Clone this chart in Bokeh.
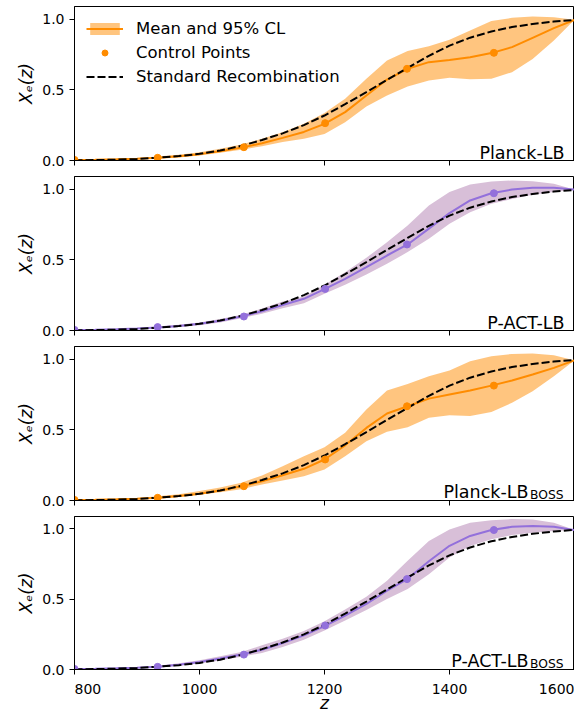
from bokeh.plotting import figure
from bokeh.layouts import column
from bokeh.models import (Range1d, FixedTicker, Label, Legend, LegendItem, PrintfTickFormatter,
                          CustomLabelingPolicy)
from bokeh.core.properties import value
from bokeh.embed import file_html
from bokeh.resources import INLINE

# redshift grid
z = [800, 833, 867, 900, 933, 967, 1000, 1033, 1067, 1100, 1133, 1167, 1200,
     1233, 1267, 1300, 1333, 1367, 1400, 1433, 1467, 1500, 1533, 1567, 1600]

# standard recombination
std = [0.002, 0.003, 0.006, 0.011, 0.020, 0.031, 0.047, 0.070, 0.104, 0.145, 0.192, 0.250, 0.318,
       0.398, 0.483, 0.570, 0.655, 0.740, 0.812, 0.868, 0.912, 0.943, 0.965, 0.982, 0.993]

# control point redshifts
cp_z = [800, 933, 1071, 1201, 1332, 1471]

# Planck-LB
mean1 = [0.004, 0.006, 0.009, 0.013, 0.019, 0.030, 0.045, 0.066, 0.091, 0.122, 0.160, 0.202, 0.259,
         0.342, 0.459, 0.572, 0.648, 0.695, 0.711, 0.730, 0.759, 0.801, 0.867, 0.935, 0.994]
lo1 = [0.003, 0.004, 0.006, 0.009, 0.012, 0.022, 0.036, 0.054, 0.076, 0.101, 0.130, 0.153, 0.188,
       0.271, 0.382, 0.459, 0.523, 0.565, 0.584, 0.575, 0.577, 0.624, 0.718, 0.848, 0.994]
hi1 = [0.005, 0.008, 0.012, 0.018, 0.028, 0.040, 0.058, 0.083, 0.113, 0.153, 0.200, 0.259, 0.335,
       0.436, 0.577, 0.707, 0.773, 0.808, 0.853, 0.919, 0.985, 1.008, 1.018, 1.013, 0.994]
cp1 = [0.004, 0.019, 0.094, 0.264, 0.648, 0.761]

# P-ACT-LB
mean2 = [0.004, 0.006, 0.009, 0.014, 0.022, 0.032, 0.047, 0.069, 0.099, 0.136, 0.180, 0.224, 0.292,
         0.365, 0.448, 0.530, 0.608, 0.720, 0.830, 0.919, 0.970, 0.996, 1.008, 1.008, 0.996]
lo2 = [0.003, 0.004, 0.007, 0.010, 0.016, 0.025, 0.037, 0.057, 0.086, 0.118, 0.158, 0.193, 0.259,
       0.323, 0.396, 0.471, 0.554, 0.648, 0.754, 0.836, 0.895, 0.930, 0.959, 0.978, 0.996]
hi2 = [0.005, 0.008, 0.012, 0.018, 0.028, 0.040, 0.057, 0.082, 0.112, 0.155, 0.205, 0.240, 0.323,
       0.412, 0.514, 0.624, 0.742, 0.883, 0.978, 1.032, 1.053, 1.060, 1.055, 1.037, 0.996]
cp2 = [0.004, 0.024, 0.099, 0.294, 0.608, 0.970]

# Planck-LB_BOSS
mean3 = [0.004, 0.006, 0.009, 0.013, 0.019, 0.031, 0.048, 0.070, 0.101, 0.136, 0.179, 0.224, 0.290,
         0.390, 0.513, 0.615, 0.666, 0.720, 0.749, 0.777, 0.812, 0.848, 0.890, 0.937, 0.991]
lo3 = [0.003, 0.004, 0.006, 0.008, 0.010, 0.024, 0.040, 0.058, 0.080, 0.113, 0.141, 0.172, 0.219,
       0.313, 0.419, 0.485, 0.518, 0.584, 0.602, 0.598, 0.626, 0.690, 0.772, 0.878, 0.991]
hi3 = [0.005, 0.008, 0.012, 0.018, 0.030, 0.045, 0.068, 0.092, 0.125, 0.177, 0.242, 0.313, 0.377,
       0.478, 0.643, 0.777, 0.824, 0.878, 0.918, 0.984, 1.020, 1.036, 1.039, 1.027, 0.991]
cp3 = [0.004, 0.019, 0.101, 0.290, 0.666, 0.812]

# P-ACT-LB_BOSS
mean4 = [0.004, 0.006, 0.009, 0.013, 0.019, 0.034, 0.054, 0.078, 0.106, 0.141, 0.188, 0.243, 0.309,
         0.384, 0.466, 0.561, 0.645, 0.770, 0.880, 0.950, 0.992, 1.015, 1.020, 1.015, 0.992]
lo4 = [0.003, 0.004, 0.006, 0.009, 0.012, 0.026, 0.042, 0.064, 0.090, 0.118, 0.160, 0.212, 0.278,
       0.349, 0.424, 0.502, 0.572, 0.678, 0.796, 0.879, 0.926, 0.956, 0.973, 0.985, 0.992]
hi4 = [0.005, 0.008, 0.012, 0.018, 0.027, 0.044, 0.066, 0.094, 0.125, 0.172, 0.219, 0.273, 0.344,
       0.426, 0.518, 0.631, 0.773, 0.914, 0.996, 1.044, 1.062, 1.070, 1.067, 1.044, 0.992]
cp4 = [0.004, 0.019, 0.106, 0.313, 0.643, 0.992]

names = ["Planck-LB", "P-ACT-LB", "Planck-LB", "P-ACT-LB"]
subs = [None, None, "BOSS", "BOSS"]
x_ticks = [800, 1000, 1200, 1400, 1600]
x_tick_labels = ["800", "1000", "1200", "1400", "1600"]
y_ticks = [0, 0.5, 1.0]

ORANGE = "darkorange"
PURPLE = "mediumpurple"
panels = [
    (mean1, lo1, hi1, cp1, ORANGE, ORANGE, 0.5),
    (mean2, lo2, hi2, cp2, PURPLE, "thistle", 1.0),
    (mean3, lo3, hi3, cp3, ORANGE, ORANGE, 0.5),
    (mean4, lo4, hi4, cp4, PURPLE, "thistle", 1.0),
]

FONT = "DejaVu Sans"
PX_PER_UNIT = 141.5
FRAME_H = 154
tops = [6, 0, 0, 0]
bottoms = [16, 16, 16, 8]
X_RANGE = Range1d(800, 1600)

no_labels = CustomLabelingPolicy(code="for (const i of indices) { indices.unset(i) }\nreturn indices")

figs = []
for i, (mean, lo, hi, cp, col, bcol, balpha) in enumerate(panels):
    p = figure(width=574, height=tops[i] + FRAME_H + bottoms[i], output_backend="svg",
               toolbar_location=None,
               x_range=X_RANGE, y_range=Range1d(0, FRAME_H / PX_PER_UNIT),
               min_border_left=74, min_border_right=0, min_border_top=tops[i],
               min_border_bottom=bottoms[i])
    p.xgrid.visible = False
    p.ygrid.visible = False
    p.outline_line_color = "black"
    p.outline_line_alpha = 1
    p.outline_line_width = 1

    band = p.varea(x=z, y1=lo, y2=hi, fill_color=bcol, fill_alpha=balpha)
    ln = p.line(z, mean, line_color=col, line_width=2)
    sr = p.line(z, std, line_color="black", line_width=2, line_dash="8 3")
    pts = p.scatter(cp_z, cp, size=7, fill_color=col, line_color=col)

    for ax in (p.xaxis[0], p.yaxis[0]):
        ax.axis_line_color = "black"
        ax.major_tick_line_color = "black"
        ax.major_tick_out = 5
        ax.major_tick_in = 0
        ax.minor_tick_line_color = None
        ax.major_label_text_font = FONT
        ax.major_label_text_font_size = "14px"
        ax.major_label_text_color = "black"
    p.xaxis.ticker = FixedTicker(ticks=x_ticks)
    p.xaxis.major_label_policy = no_labels
    p.xaxis.major_label_text_font_size = "1px"
    p.xaxis.major_label_standoff = 0
    p.yaxis.ticker = FixedTicker(ticks=y_ticks)
    p.yaxis.formatter = PrintfTickFormatter(format="%.1f")
    p.yaxis.major_label_standoff = 5
    p.yaxis.axis_label = "Xₑ(z)"
    p.yaxis.axis_label_text_font = FONT
    p.yaxis.axis_label_text_font_size = "17px"
    p.yaxis.axis_label_text_font_style = "italic"
    p.yaxis.axis_label_text_color = "black"
    p.yaxis.axis_label_standoff = 3

    if subs[i] is None:
        p.add_layout(Label(x=1600, y=0, x_offset=-10, y_offset=8, text=names[i],
                           text_font=FONT, text_font_size="17.5px", text_align="right",
                           text_baseline="alphabetic", text_color="black"))
    else:
        p.add_layout(Label(x=1600, y=0, x_offset=-46, y_offset=9, text=names[i],
                           text_font=FONT, text_font_size="17.5px", text_align="right",
                           text_baseline="alphabetic", text_color="black"))
        p.add_layout(Label(x=1600, y=0, x_offset=-11, y_offset=5.5, text=subs[i],
                           text_font=FONT, text_font_size="12.3px", text_align="right",
                           text_baseline="alphabetic", text_color="black"))

    if i == 0:
        legend = Legend(items=[
            LegendItem(label="Mean and 95% CL", renderers=[band, ln]),
            LegendItem(label="Control Points", renderers=[pts]),
            LegendItem(label="Standard Recombination", renderers=[sr]),
        ], location="top_left")
        legend.label_text_font = FONT
        legend.label_text_font_size = "16.5px"
        legend.label_text_color = "black"
        legend.glyph_width = 37
        legend.glyph_height = 15
        legend.label_height = 21
        legend.spacing = 3
        legend.padding = 9
        legend.margin = 3
        legend.label_standoff = 13
        legend.border_line_alpha = 0
        legend.background_fill_alpha = 0
        p.add_layout(legend)
    figs.append(p)

# shared bottom strip: x tick labels (first left-aligned, last right-aligned) and the z label
STRIP_H = 35
strip = figure(width=574, height=STRIP_H, output_backend="svg", toolbar_location=None,
               x_range=X_RANGE, y_range=Range1d(0, 1),
               x_axis_type=None, y_axis_type=None,
               min_border_left=74, min_border_right=0, min_border_top=0, min_border_bottom=0)
strip.outline_line_color = None
aligns = ["left"] + ["center"] * (len(x_ticks) - 2) + ["right"]
strip.text(x=x_ticks, y=[1] * len(x_ticks), text=x_tick_labels, text_align=aligns,
           text_baseline="alphabetic", y_offset=10, text_font=value(FONT),
           text_font_size="14px", text_color="black")
strip.text(x=[(x_ticks[0] + x_ticks[-1]) / 2], y=[1], text=["z"], text_align="center",
           text_baseline="alphabetic", y_offset=24, text_font=value(FONT),
           text_font_size="17px", text_font_style="italic", text_color="black")
figs.append(strip)

layout = column(*figs, spacing=0)
open("out.html", "w").write(file_html(layout, INLINE))
